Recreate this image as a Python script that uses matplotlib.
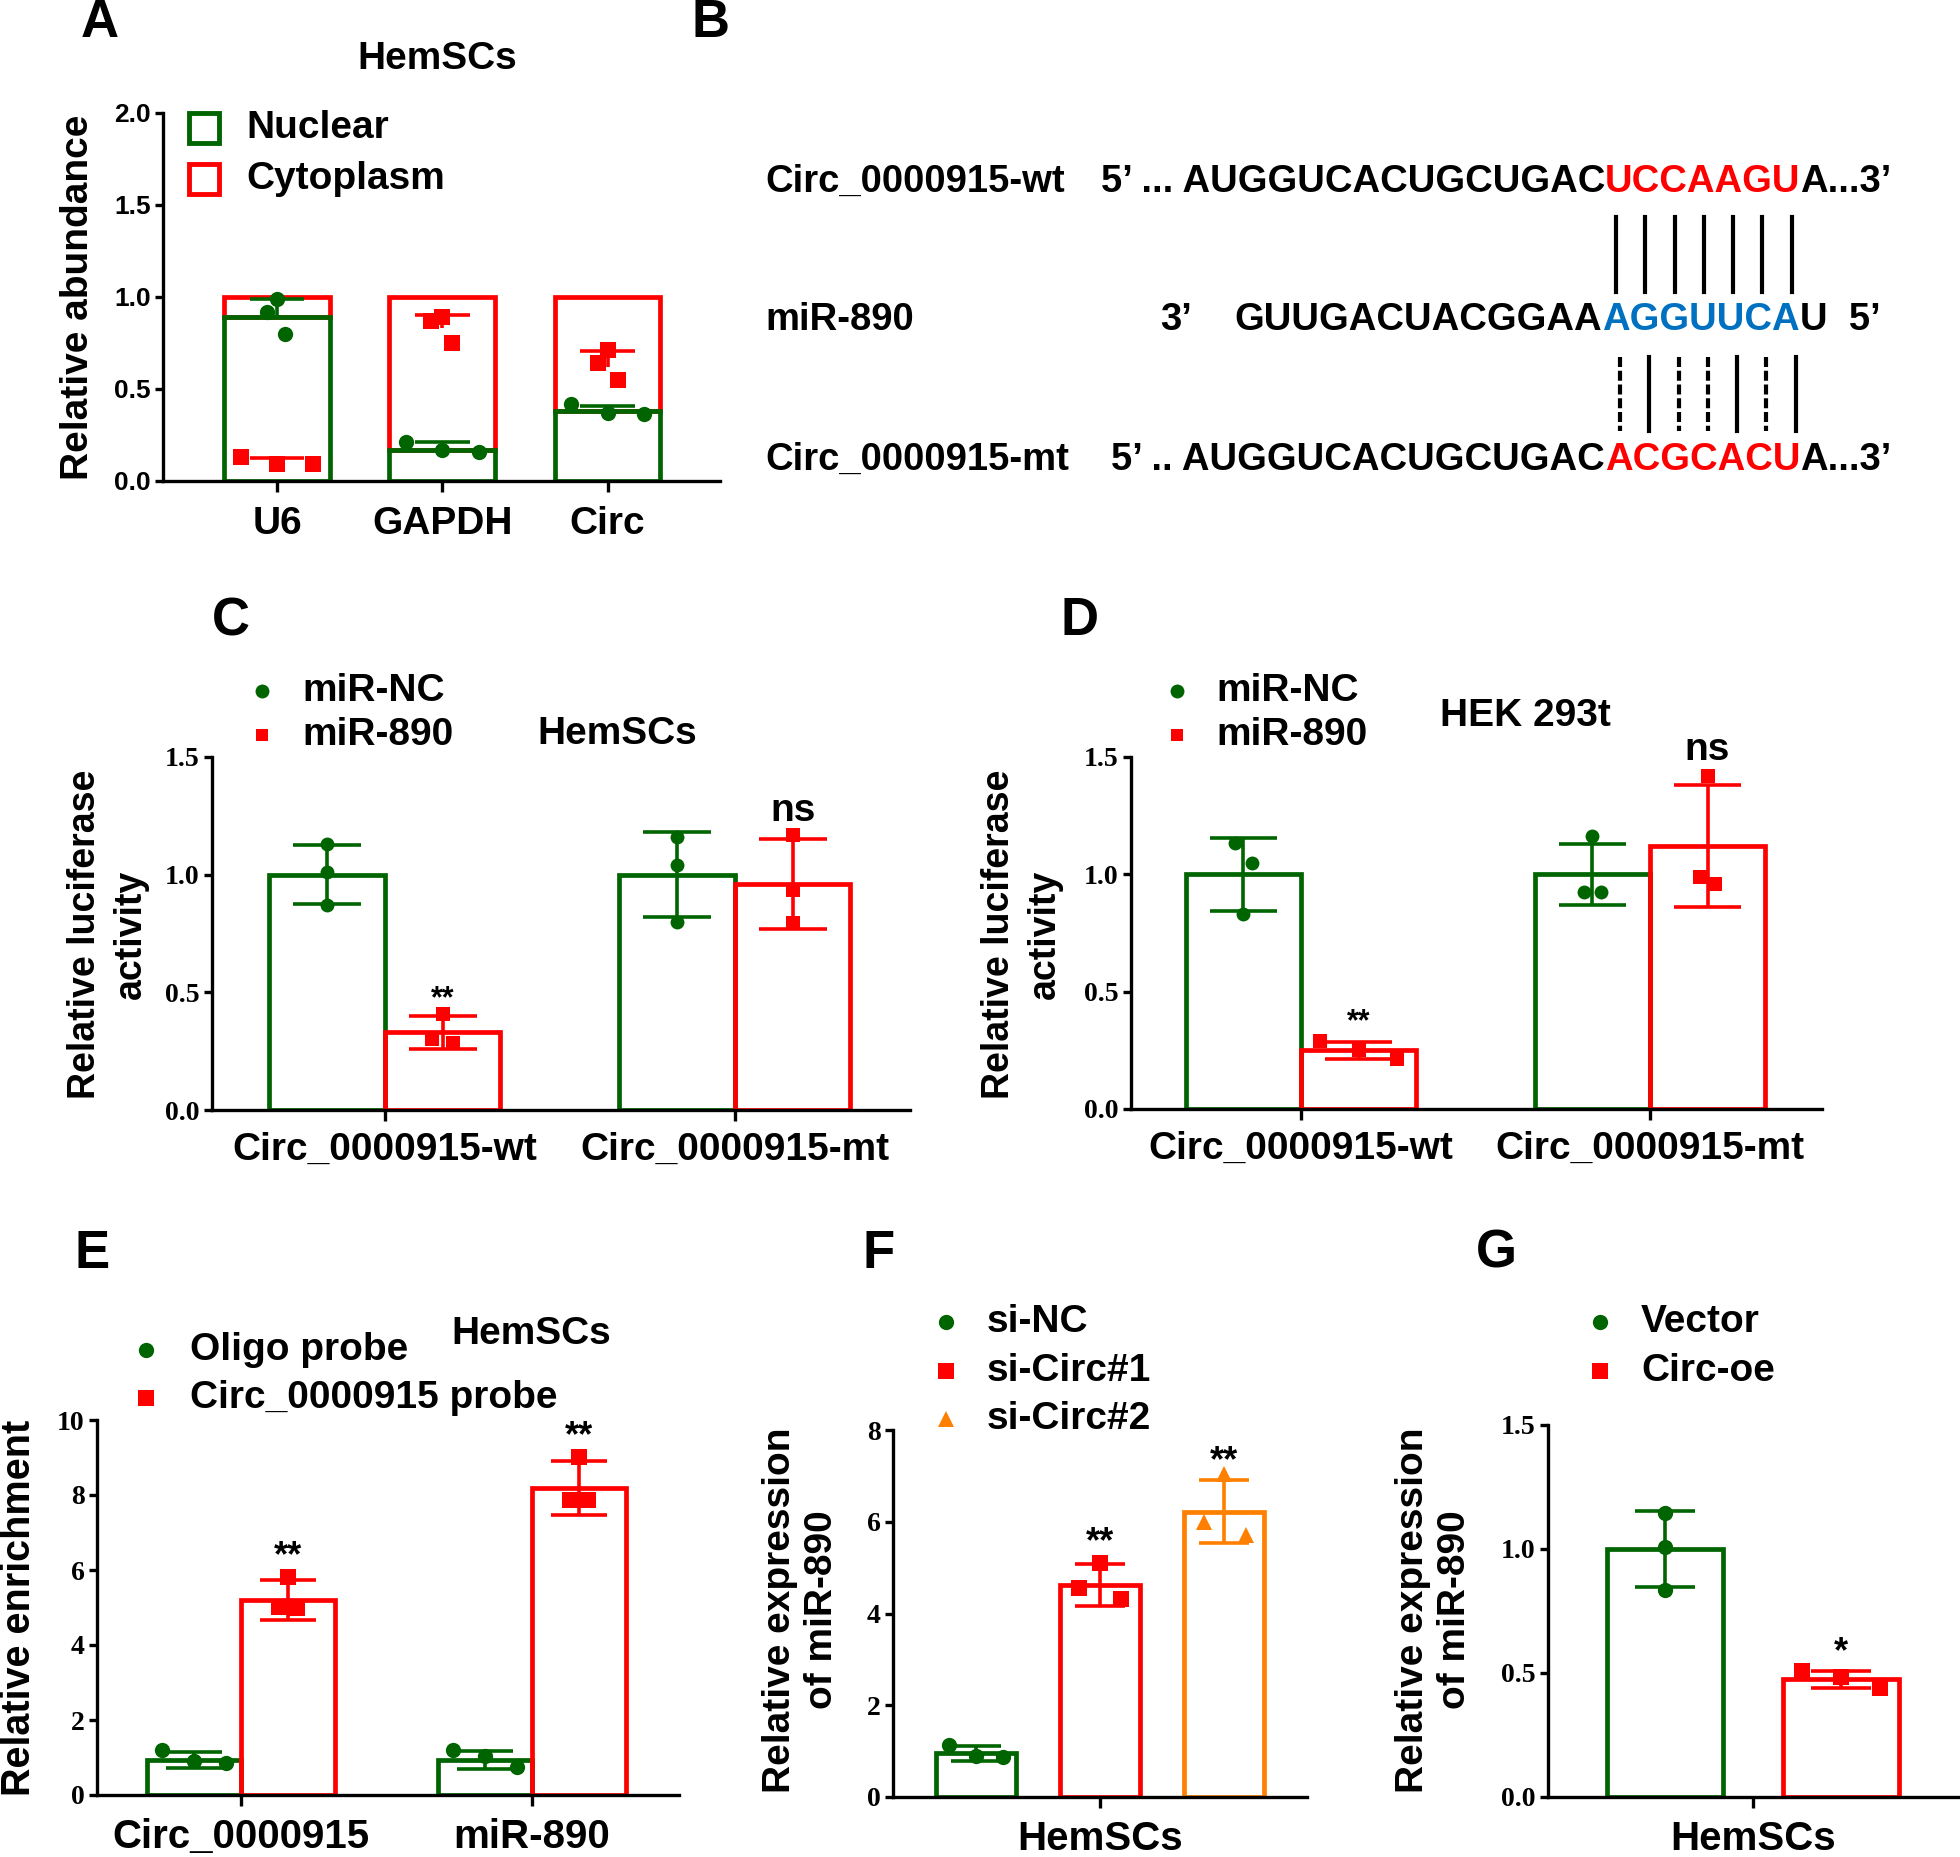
"""Recreate the circ_0000915 / miR-890 multi-panel figure (panels A-G)."""
import numpy as np
import matplotlib
matplotlib.use("Agg")
import matplotlib.pyplot as plt
from matplotlib.lines import Line2D

# ---- data ----
# A: nuclear / cytoplasm fractionation (stacked to 1.0)
A_CATS = ['U6', 'GAPDH', 'Circ']
A_NUC = [0.89, 0.17, 0.38]
A_NUC_ERR = [0.10, 0.04, 0.03]
A_NUC_PTS = [[0.92, 0.99, 0.80], [0.21, 0.17, 0.155], [0.42, 0.37, 0.365]]
A_CYT = [0.11, 0.83, 0.62]
A_CYT_ERR = [0.015, 0.07, 0.085]
A_CYT_PTS = [[0.13, 0.095, 0.09], [0.87, 0.89, 0.75], [0.64, 0.71, 0.55]]
A_YTICKS = [0, 0.5, 1.0, 1.5, 2.0]
A_YLABELS = ['0.0', '0.5', '1.0', '1.5', '2.0']

# B: binding sites
B_NAMES = ['Circ_0000915-wt', 'miR-890', 'Circ_0000915-mt']
B_WT = ['5’ ... AUGGUCACUGCUGAC', 'UCCAAGU', 'A...3’']
B_MIR = ['GUUGACUACGGAA', 'AGGUUCA', 'U  5’']
B_MT = ['5’ .. AUGGUCACUGCUGAC', 'ACGCACU', 'A...3’']
B_MT_PAIRS = ['dash', 'solid', 'dash', 'dash', 'solid', 'dash', 'solid']

# C / D: dual luciferase
LUC_GROUPS = ['Circ_0000915-wt', 'Circ_0000915-mt']
LUC_YTICKS = [0, 0.5, 1.0, 1.5]
LUC_YLABELS = ['0.0', '0.5', '1.0', '1.5']
C_NC = [1.0, 1.0]
C_NC_SD = [0.125, 0.18]
C_NC_PTS = [[1.13, 1.01, 0.87], [1.16, 1.04, 0.80]]
C_MIR = [0.33, 0.96]
C_MIR_SD = [0.07, 0.19]
C_MIR_PTS = [[0.41, 0.30, 0.285], [1.17, 0.935, 0.795]]
C_SIG = ['**', 'ns']
C_SIG_Y = [0.47, 1.27]
D_NC = [1.0, 1.0]
D_NC_SD = [0.155, 0.13]
D_NC_PTS = [[1.135, 1.05, 0.83], [1.165, 0.925, 0.925]]
D_MIR = [0.25, 1.12]
D_MIR_SD = [0.035, 0.26]
D_MIR_PTS = [[0.29, 0.25, 0.215], [1.42, 0.99, 0.96]]
D_SIG = ['**', 'ns']
D_SIG_Y = [0.37, 1.53]

# E: RNA pull-down
E_GROUPS = ['Circ_0000915', 'miR-890']
E_OLIGO = [0.93, 0.93]
E_OLIGO_SD = [0.22, 0.24]
E_OLIGO_PTS = [[1.2, 0.92, 0.86], [1.19, 1.05, 0.76]]
E_PROBE = [5.2, 8.2]
E_PROBE_SD = [0.53, 0.72]
E_PROBE_PTS = [[5.82, 5.02, 5.0], [9.02, 7.86, 7.86]]
E_SIG = ['**', '**']
E_SIG_Y = [6.35, 9.55]
E_YTICKS = [0, 2, 4, 6, 8, 10]

# F: knockdown
F_CATS = ['si-NC', 'si-Circ#1', 'si-Circ#2']
F_MEAN = [0.95, 4.62, 6.22]
F_SD = [0.16, 0.45, 0.68]
F_PTS = [[1.13, 0.9, 0.88], [5.1, 4.56, 4.31], [7.03, 6.0, 5.71]]
F_SIG = ['', '**', '**']
F_SIG_Y = [0, 5.55, 7.3]
F_YTICKS = [0, 2, 4, 6, 8]

# G: overexpression
G_CATS = ['Vector', 'Circ-oe']
G_MEAN = [1.0, 0.475]
G_SD = [0.155, 0.035]
G_PTS = [[1.147, 1.01, 0.835], [0.51, 0.485, 0.44]]
G_SIG = ['', '*']
G_SIG_Y = [0, 0.58]

# ---- style / layout ----
W, H, DPI = 1960, 1857, 100
GREEN, RED, ORANGE, BLUE = '#006400', '#ff0000', '#ff8000', '#0070c0'
SANS, SERIF = 'Liberation Sans', 'Liberation Serif'
BAR_LW, ERR_LW, SPINE_LW = 3.4, 2.6, 2.4
TXT = 28          # legends, titles, axis labels
TICK = 20         # serif tick labels
SEQ = 27.5        # panel B sequences

# point jitter (fraction of group spacing)
A_NUC_JIT = [[-0.06, 0, 0.05], [-0.22, 0, 0.22], [-0.22, 0, 0.22]]
A_CYT_JIT = [[-0.22, 0, 0.22], [-0.07, 0, 0.06], [-0.06, 0, 0.06]]
C_NC_JIT = [[0, 0, 0], [0, 0, 0]]
C_MIR_JIT = [[0, -0.03, 0.03], [0, 0, 0]]
D_NC_JIT = [[-0.025, 0.025, 0], [0, -0.025, 0.025]]
D_MIR_JIT = [[-0.11, 0, 0.11], [0, -0.022, 0.022]]
E_OLIGO_JIT = [[-0.11, 0, 0.11], [-0.11, 0, 0.11]]
E_PROBE_JIT = [[0, -0.03, 0.03], [0, -0.03, 0.03]]
F_JIT = [[-0.22, 0, 0.22], [0, -0.17, 0.17], [0, -0.16, 0.18]]
G_JIT = [[0, 0, 0], [-0.22, 0, 0.22]]


def fx(x):
    return x / W


def fy(y):
    return 1 - y / H


def px_axes(fig, left, top, right, bottom):
    """Axes from pixel box: top = y of ymax, bottom = y of 0."""
    return fig.add_axes([fx(left), fy(bottom), (right - left) / W, (bottom - top) / H])


def style(ax, xlim, ylim, yticks, ylabels, xticks, xlabels, tick_family=SERIF,
          tick_size=TICK, xsize=TXT, xpad=8):
    ax.set_xlim(*xlim)
    ax.set_ylim(*ylim)
    for s in ('top', 'right'):
        ax.spines[s].set_visible(False)
    for s in ('left', 'bottom'):
        ax.spines[s].set_linewidth(SPINE_LW)
    ax.set_yticks(yticks, ylabels, fontsize=tick_size, fontweight='bold', family=tick_family)
    ax.set_xticks(xticks, xlabels, fontsize=xsize, fontweight='bold', family=SANS)
    ax.tick_params(axis='y', length=6, width=SPINE_LW, pad=3)
    ax.tick_params(axis='x', length=8, width=SPINE_LW, pad=xpad)
    ax.patch.set_alpha(0)


def errbar(ax, x, mean, sd, color, half, both=True):
    lo = mean - sd if both else mean
    ax.vlines(x, lo, mean + sd, colors=color, lw=ERR_LW, zorder=3)
    caps = [mean + sd, mean - sd] if both else [mean + sd]
    ax.hlines(caps, x - half, x + half, colors=color, lw=ERR_LW, zorder=3)


def points(ax, x, vals, jit, marker, color, ms):
    ax.plot(x + np.asarray(jit), vals, ls='none', marker=marker, color=color,
            ms=ms, mew=0, zorder=4, clip_on=False)


def text(fig, x, y, s, size=TXT, **kw):
    kw.setdefault('ha', 'center')
    kw.setdefault('va', 'center')
    return fig.text(fx(x), fy(y), s, fontsize=size, fontweight='bold', family=SANS, **kw)


def legend_entry(fig, xm, y, marker, color, label, xt, ms=11, open_marker=False):
    kw = dict(mfc='none', mec=color, mew=3.5) if open_marker else dict(mfc=color, mec=color, mew=0)
    fig.add_artist(Line2D([fx(xm)], [fy(y)], ls='none', marker=marker, ms=ms, **kw))
    text(fig, xt, y, label, ha='left')


def ylabel(fig, x, y, s, size=TXT, spacing=1.05):
    text(fig, x, y, s, size=size, rotation=90, linespacing=spacing, multialignment='center')


def panel_a(fig):
    ax = px_axes(fig, 163, 113, 720, 481)
    x = np.arange(len(A_CATS))
    ax.bar(x, A_CYT, 0.64, bottom=A_NUC, fill=False, edgecolor=RED, lw=BAR_LW)
    ax.bar(x, A_NUC, 0.64, fill=False, edgecolor=GREEN, lw=BAR_LW)
    for i in range(len(x)):
        errbar(ax, x[i], A_NUC[i], A_NUC_ERR[i], GREEN, 0.165, both=False)
        errbar(ax, x[i], A_CYT[i], A_CYT_ERR[i], RED, 0.165, both=False)
        points(ax, x[i], A_NUC_PTS[i], A_NUC_JIT[i], 'o', GREEN, 11)
        points(ax, x[i], A_CYT_PTS[i], A_CYT_JIT[i], 's', RED, 11)
    style(ax, (-0.69, 2.68), (0, 2.0), A_YTICKS, A_YLABELS, x, A_CATS,
          tick_family=SANS, tick_size=19, xpad=10)
    text(fig, 437, 59, 'HemSCs')
    legend_entry(fig, 204, 128, 's', GREEN, 'Nuclear', 246, ms=22, open_marker=True)
    legend_entry(fig, 204, 179, 's', RED, 'Cytoplasm', 246, ms=22, open_marker=True)
    ylabel(fig, 78, 297, 'Relative abundance')


def panel_b(fig):
    r = fig.canvas.get_renderer()

    def put(x, y, s, color='black', ha='left'):
        t = fig.text(fx(x), fy(y), s, color=color, ha=ha, va='baseline',
                     fontsize=SEQ, fontweight='bold', family=SANS)
        return t.get_window_extent(r)

    rows = [(192, B_WT, RED, 1605), (330, B_MIR, BLUE, 1602), (470, B_MT, RED, 1605)]
    spans = []
    for (yb, parts, col, x0), name in zip(rows, B_NAMES):
        put(765, yb, name)
        put(x0, yb, parts[0], ha='right')
        bb = put(x0, yb, parts[1], col)
        put(bb.x1, yb, parts[2])
        spans.append(bb)
    put(1160, 330, '3’')

    # base-pairing ticks above / below the miR-890 seed
    mid = spans[1]
    xs = np.linspace(mid.x0 + 0.072 * mid.width, mid.x0 + 0.96 * mid.width, 7)
    for xv in xs:
        fig.add_artist(Line2D([fx(xv)] * 2, [fy(217), fy(292)], color='black', lw=3))
    for xv, kind in zip(xs + 4, B_MT_PAIRS):
        ls = (0, (2.4, 0.9)) if kind == 'dash' else '-'
        fig.add_artist(Line2D([fx(xv)] * 2, [fy(357), fy(431)], color='black', lw=3, ls=ls))


def panel_luc(fig, box, xlim, nc, nc_sd, nc_pts, nc_jit, mir, mir_sd, mir_pts, mir_jit,
              sig, sig_y, sig_size):
    ax = px_axes(fig, *box)
    x = np.arange(len(LUC_GROUPS))
    bw = 0.33
    ax.bar(x - bw / 2, nc, bw, fill=False, edgecolor=GREEN, lw=BAR_LW)
    ax.bar(x + bw / 2, mir, bw, fill=False, edgecolor=RED, lw=BAR_LW)
    for i in range(len(x)):
        errbar(ax, x[i] - bw / 2, nc[i], nc_sd[i], GREEN, 0.097)
        errbar(ax, x[i] + bw / 2, mir[i], mir_sd[i], RED, 0.097)
        points(ax, x[i] - bw / 2, nc_pts[i], nc_jit[i], 'o', GREEN, 10)
        points(ax, x[i] + bw / 2, mir_pts[i], mir_jit[i], 's', RED, 10)
        size = sig_size if sig[i] == '**' else TXT
        ax.text(x[i] + bw / 2, sig_y[i], sig[i], ha='center', va='center',
                fontsize=size, fontweight='bold', family=SANS)
    style(ax, xlim, (0, 1.5), LUC_YTICKS, LUC_YLABELS, x, LUC_GROUPS, xpad=7.5)
    return ax


def panel_c(fig):
    panel_luc(fig, (212, 757, 910, 1110), (-0.494, 1.5), C_NC, C_NC_SD, C_NC_PTS, C_NC_JIT,
              C_MIR, C_MIR_SD, C_MIR_PTS, C_MIR_JIT, C_SIG, C_SIG_Y, 22)
    legend_entry(fig, 262, 691, 'o', GREEN, 'miR-NC', 302, ms=10)
    legend_entry(fig, 262, 735, 's', RED, 'miR-890', 302, ms=9)
    text(fig, 617, 734, 'HemSCs')
    ylabel(fig, 108, 934, 'Relative luciferase\nactivity', size=27, spacing=1.34)


def panel_d(fig):
    panel_luc(fig, (1131, 757, 1822, 1109), (-0.487, 1.493), D_NC, D_NC_SD, D_NC_PTS, D_NC_JIT,
              D_MIR, D_MIR_SD, D_MIR_PTS, D_MIR_JIT, D_SIG, D_SIG_Y, 22)
    legend_entry(fig, 1177, 691, 'o', GREEN, 'miR-NC', 1216, ms=10)
    legend_entry(fig, 1177, 735, 's', RED, 'miR-890', 1216, ms=9)
    text(fig, 1525, 716, 'HEK 293t')
    ylabel(fig, 1022, 934, 'Relative luciferase\nactivity', size=27, spacing=1.34)


def panel_e(fig):
    ax = px_axes(fig, 97, 1420, 679, 1795)
    x = np.arange(len(E_GROUPS))
    bw = 0.323
    ax.bar(x - bw / 2, E_OLIGO, bw, fill=False, edgecolor=GREEN, lw=BAR_LW)
    ax.bar(x + bw / 2, E_PROBE, bw, fill=False, edgecolor=RED, lw=BAR_LW)
    for i in range(len(x)):
        errbar(ax, x[i] - bw / 2, E_OLIGO[i], E_OLIGO_SD[i], GREEN, 0.095)
        errbar(ax, x[i] + bw / 2, E_PROBE[i], E_PROBE_SD[i], RED, 0.095)
        points(ax, x[i] - bw / 2, E_OLIGO_PTS[i], E_OLIGO_JIT[i], 'o', GREEN, 11)
        points(ax, x[i] + bw / 2, E_PROBE_PTS[i], E_PROBE_JIT[i], 's', RED, 11)
        ax.text(x[i] + bw / 2, E_SIG_Y[i], E_SIG[i], ha='center', va='center',
                fontsize=26, fontweight='bold', family=SANS)
    style(ax, (-0.495, 1.505), (0, 10), E_YTICKS, [str(v) for v in E_YTICKS], x, E_GROUPS,
          xsize=29, xpad=8.5)
    legend_entry(fig, 146, 1350, 'o', GREEN, 'Oligo probe', 190)
    legend_entry(fig, 146, 1398, 's', RED, 'Circ_0000915 probe', 190)
    text(fig, 531, 1334, 'HemSCs')
    ylabel(fig, 19, 1608, 'Relative enrichment', size=28.5)


def panel_f(fig):
    ax = px_axes(fig, 893, 1430, 1307, 1797)
    x = np.arange(len(F_CATS)) - 1.0
    colors = [GREEN, RED, ORANGE]
    markers = ['o', 's', '^']
    for i in range(len(x)):
        ax.bar(x[i], F_MEAN[i], 0.64, fill=False, edgecolor=colors[i], lw=BAR_LW)
        errbar(ax, x[i], F_MEAN[i], F_SD[i], colors[i], 0.2)
        points(ax, x[i], F_PTS[i], F_JIT[i], markers[i], colors[i], 11)
        ax.text(x[i], F_SIG_Y[i], F_SIG[i], ha='center', va='center',
                fontsize=26, fontweight='bold', family=SANS)
    style(ax, (-1.67, 1.67), (0, 8), F_YTICKS, [str(v) for v in F_YTICKS], [0], ['HemSCs'],
          xsize=29, xpad=8.5)
    for i, (lab, y) in enumerate(zip(F_CATS, [1322, 1371, 1419])):
        legend_entry(fig, 946, y, markers[i], colors[i], lab, 987, ms=12 if i == 2 else 11)
    ylabel(fig, 801, 1610, 'Relative expression\nof miR-890', spacing=1.2)


def panel_g(fig):
    ax = px_axes(fig, 1548, 1425, 1958, 1797)
    x = np.arange(len(G_CATS)) - 0.5
    colors = [GREEN, RED]
    markers = ['o', 's']
    for i in range(len(x)):
        ax.bar(x[i], G_MEAN[i], 0.656, fill=False, edgecolor=colors[i], lw=BAR_LW)
        errbar(ax, x[i], G_MEAN[i], G_SD[i], colors[i], 0.17)
        points(ax, x[i], G_PTS[i], G_JIT[i], markers[i], colors[i], 11)
        ax.text(x[i], G_SIG_Y[i], G_SIG[i], ha='center', va='center',
                fontsize=26, fontweight='bold', family=SANS)
    style(ax, (-1.165, 1.165), (0, 1.5), LUC_YTICKS, LUC_YLABELS, [0], ['HemSCs'],
          xsize=29, xpad=8.5)
    for i, (lab, y) in enumerate(zip(G_CATS, [1322, 1371])):
        legend_entry(fig, 1600, y, markers[i], colors[i], lab, 1641)
    ylabel(fig, 1434, 1610, 'Relative expression\nof miR-890', spacing=1.23)


def main():
    fig = plt.figure(figsize=(W / DPI, H / DPI), dpi=DPI)
    panel_a(fig)
    panel_b(fig)
    panel_c(fig)
    panel_d(fig)
    panel_e(fig)
    panel_f(fig)
    panel_g(fig)
    for letter, (x, y) in zip('ABCDEFG', [(100, 23), (710, 23), (231, 621), (1080, 621),
                                          (92, 1254), (879, 1254), (1496, 1254)]):
        text(fig, x, y, letter, size=38)
    fig.savefig('out.png', dpi=DPI)
    plt.close(fig)


if __name__ == "__main__":
    main()
